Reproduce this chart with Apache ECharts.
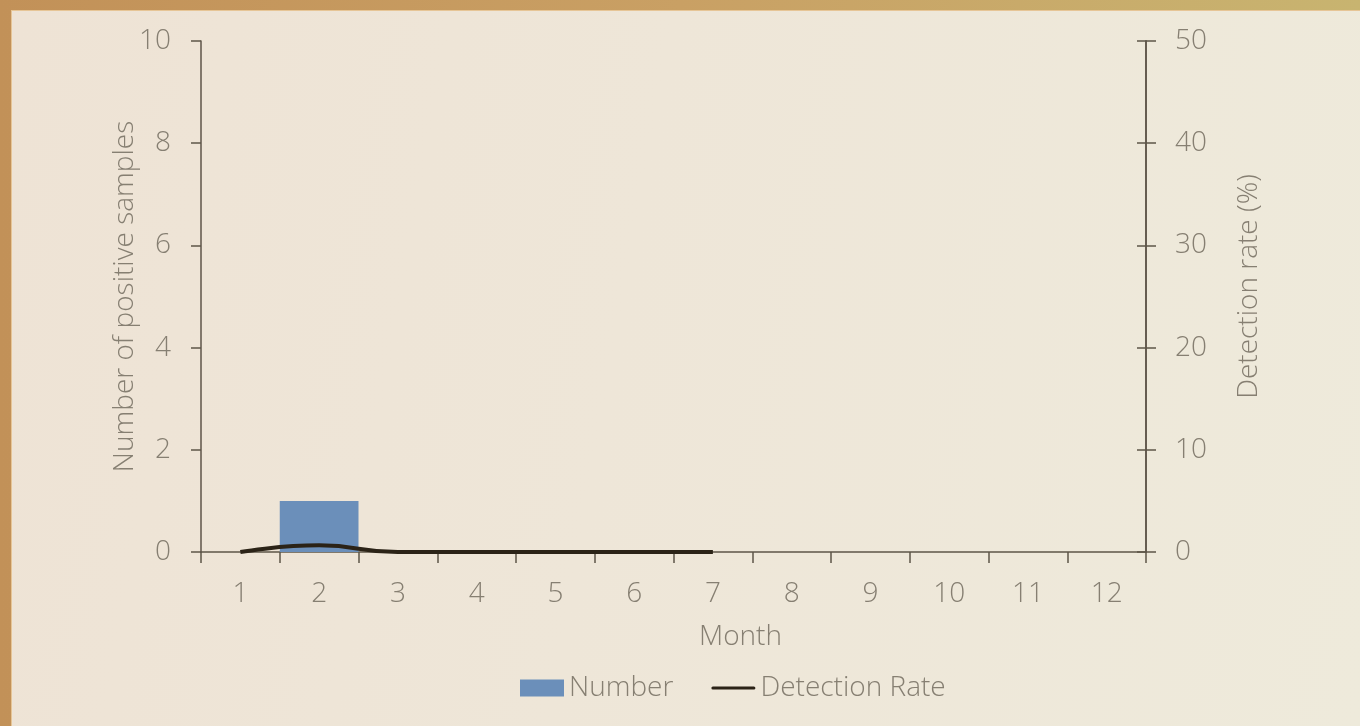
<!DOCTYPE html>
<html>
<head>
<meta charset="utf-8">
<title>Monthly positive samples and detection rate</title>
<script src="https://cdn.jsdelivr.net/npm/echarts@6/dist/echarts.min.js"></script>
<style>
  html, body { margin: 0; padding: 0; width: 1360px; height: 726px; overflow: hidden; }
  body { background: linear-gradient(90deg, #c29158 0%, #c9a064 50%, #c8b470 100%); position: relative; }
  #frame {
    position: absolute; left: 11px; top: 10px; right: 0; bottom: 0;
    border-left: 1px solid #e6c596; border-top: 1px solid #e6c596;
    background: linear-gradient(100deg, #eee3d5 0%, #eee6d8 45%, #eeeadb 100%);
  }
  #chart { position: absolute; left: 0; top: 0; width: 1348px; height: 715px; }
</style>
</head>
<body>
<div id="frame"><div id="chart"></div></div>
<script>
  // Months 1–12
  const months = ['1', '2', '3', '4', '5', '6', '7', '8', '9', '10', '11', '12'];
  // Number of positive samples per month
  const positiveCounts = [0, 1, 0, 0, 0, 0, 0, 0, 0, 0, 0, 0];
  // Detection rate (%) per month; no data after month 7
  const detectionRates = [0, 0.65, 0, 0, 0, 0, 0, null, null, null, null, null];

  const FONT = '"Open Sans", "Noto Sans", sans-serif';
  const TEXT = '#867f72';
  const AXIS = '#5e5548';
  const SIZE = 28;
  const textBase = { color: TEXT, fontSize: SIZE, fontFamily: FONT, fontWeight: 300 };

  const chart = echarts.init(document.getElementById('chart'), null, { renderer: 'canvas' });

  const valueAxisCommon = {
    type: 'value',
    splitLine: { show: false },
    axisLine: { show: true, lineStyle: { color: AXIS, width: 1.5 } },
    axisTick: { show: true, length: 10, lineStyle: { color: AXIS, width: 1.5 } },
    nameLocation: 'middle',
    nameMoveOverlap: false,
    nameTextStyle: Object.assign({}, textBase),
    axisLabel: Object.assign({}, textBase)
  };

  chart.setOption({
    backgroundColor: 'transparent',
    animation: false,
    textStyle: { fontFamily: FONT },
    grid: { left: 189, right: 214, top: 30, bottom: 174, containLabel: false },
    legend: {
      left: 503,
      bottom: 19,
      itemGap: 38,
      itemWidth: 44,
      itemHeight: 17,
      textStyle: Object.assign({}, textBase),
      data: [
        { name: 'Number', icon: 'rect' },
        { name: 'Detection Rate', icon: 'path://M1.5,0 H42.5 A1.5,1.5 0 0 1 42.5,3 H1.5 A1.5,1.5 0 0 1 1.5,0 Z' }
      ]
    },
    xAxis: {
      type: 'category',
      data: months,
      boundaryGap: true,
      name: 'Month',
      nameLocation: 'middle',
      nameGap: 71,
      nameMoveOverlap: false,
      nameTextStyle: Object.assign({}, textBase, { padding: [0, 0, 0, 134] }),
      axisLine: { show: true, lineStyle: { color: AXIS, width: 1.5 } },
      axisTick: { show: true, length: 11, lineStyle: { color: AXIS, width: 1.5 } },
      axisLabel: Object.assign({}, textBase, { margin: 28 })
    },
    yAxis: [
      Object.assign({}, valueAxisCommon, {
        position: 'left',
        min: 0, max: 10, interval: 2,
        name: 'Number of positive samples',
        nameGap: 62,
        axisLabel: Object.assign({}, textBase, { margin: 30 })
      }),
      Object.assign({}, valueAxisCommon, {
        position: 'right',
        min: 0, max: 50, interval: 10,
        name: 'Detection rate (%)',
        nameGap: 89,
        nameTextStyle: Object.assign({}, textBase, { padding: [0, 0, 0, 20] }),
        axisLabel: Object.assign({}, textBase, { margin: 29 })
      }),
      // inner half of the right-hand ticks, so they cross the axis line
      Object.assign({}, valueAxisCommon, {
        position: 'right',
        min: 0, max: 50, interval: 10,
        axisTick: { show: true, inside: true, length: 9, lineStyle: { color: AXIS, width: 1.5 } },
        axisLabel: { show: false }
      })
    ],
    series: [
      {
        name: 'Number',
        type: 'bar',
        yAxisIndex: 0,
        data: positiveCounts,
        barWidth: '100%',
        itemStyle: { color: '#6b8fba' }
      },
      {
        name: 'Detection Rate',
        type: 'line',
        yAxisIndex: 1,
        data: detectionRates,
        smooth: true,
        symbol: 'none',
        connectNulls: false,
        lineStyle: { color: '#2b2317', width: 4 },
        itemStyle: { color: '#2b2317' }
      }
    ]
  });
</script>
</body>
</html>
